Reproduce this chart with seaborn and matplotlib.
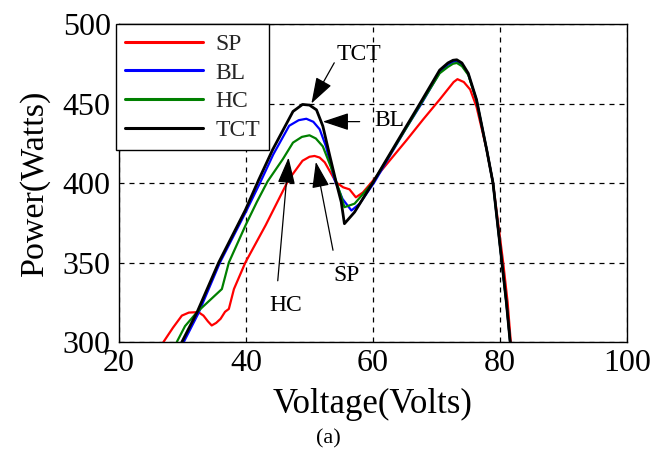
import matplotlib
matplotlib.use("Agg")
import matplotlib.pyplot as plt
import seaborn as sns
import pandas as pd

# ---- data ----
tct_v = [29.9, 32.3, 35.7, 39.9, 42.0, 44.2, 47.4, 48.9, 50.0, 51.1, 52.1, 53.2, 54.2, 55.0, 55.5, 57.1,
         60.0, 65.3, 67.4, 70.5, 71.8, 72.6, 73.2, 74.0, 75.0, 76.3, 77.9, 78.9, 80.3, 81.0, 81.6, 81.8]
tct_p = [300, 318.8, 350, 383, 402, 421, 445, 449.4, 449, 446, 435.8, 417, 400.4, 388, 374.4, 381.7,
         400.4, 436, 450, 471, 475.5, 477.2, 477.5, 475.5, 469, 452.5, 421, 400, 350, 325, 300, 290]

bl_v = [30.2, 32.5, 35.9, 40.0, 42.2, 44.3, 46.8, 48.3, 49.5, 50.6, 51.6, 52.6, 53.9, 55.2, 56.6, 57.9,
        60.2, 65.3, 67.5, 70.5, 71.8, 72.6, 73.2, 74.0, 75.0, 76.3, 77.9, 78.9, 80.3, 81.0, 81.6, 81.8]
bl_p = [300, 318, 350, 382, 400, 418, 436, 439.5, 440.4, 438.5, 433.8, 423, 402.5, 390, 382.7, 387,
        400.4, 435, 449, 469.5, 474.5, 476.2, 476.5, 474.5, 468.5, 452, 421, 400, 350, 325, 300, 290]

hc_v = [29.1, 30.4, 32.3, 36.2, 37.3, 40.0, 41.7, 43.4, 45.8, 47.4, 48.8, 50.0, 51.0, 52.1, 53.7, 54.8,
        55.5, 57.1, 60.0, 65.3, 67.4, 70.5, 71.8, 72.6, 73.2, 74.0, 75.0, 76.3, 77.9, 78.9, 80.3, 81.0,
        81.6, 81.8]
hc_p = [300, 310, 318.8, 333.3, 350, 374, 388, 401, 415, 425.4, 429, 430, 428, 423, 406.7, 394,
        384.8, 387, 400.4, 435, 449, 469, 473, 475, 475.5, 473.5, 468, 452, 421, 400, 350, 325,
        300, 290]

sp_v = [27.0, 28.5, 29.9, 31.0, 32.5, 33.3, 34.0, 34.6, 35.3, 36.0, 36.7, 37.3, 38.1, 39.9, 43.1, 46.7,
        48.9, 50.0, 50.8, 51.6, 52.4, 54.2, 55.3, 56.3, 57.3, 58.4, 60.0, 62.6, 65.3, 67.9, 70.5, 72.0,
        72.7, 73.3, 74.3, 75.3, 76.3, 77.9, 78.9, 80.5, 81.2, 81.7, 81.9]
sp_p = [300, 309, 316.6, 318.5, 318.8, 316.6, 313, 310.4, 312, 314.6, 319, 320.8, 333.3, 350, 373.5, 402,
        414, 416.5, 417, 416, 413, 400.4, 397.3, 396, 391, 394, 401.5, 414, 427, 440, 452.5, 460,
        463.5, 465.3, 463.5, 458.8, 448, 421, 400, 350, 325, 300, 290]

series_names = ["SP", "BL", "HC", "TCT"]
series_colors = ["#ff0000", "#0000ff", "#008000", "#000000"]

x_ticks = [20, 40, 60, 80, 100]
y_ticks = [300, 350, 400, 450, 500]

# annotations: label, arrow tip, arrow tail, text centre (data coords)
ann_labels = ["TCT", "BL", "HC", "SP"]
ann_tip = [(50.3, 450.0), (52.1, 438.6), (46.7, 416.0), (51.0, 413.3)]
ann_tail = [(53.9, 475.6), (57.9, 438.6), (45.0, 338.5), (53.7, 357.7)]
ann_text = [(57.8, 480.6), (62.6, 439.0), (46.3, 322.9), (55.8, 342.0)]

# ---- build table ----
frames = []
for name, v, p in zip(series_names, [sp_v, bl_v, hc_v, tct_v], [sp_p, bl_p, hc_p, tct_p]):
    frames.append(pd.DataFrame({"Voltage": v, "Power": p, "Config": name}))
df = pd.concat(frames, ignore_index=True)

sns.set_theme(style="white")
plt.rcParams["font.family"] = ["Liberation Serif", "DejaVu Serif"]

fig = plt.figure(figsize=(6.56, 4.61), dpi=100)
ax = fig.add_axes([119 / 656, 1 - 342 / 461, (627 - 119) / 656, (342 - 24) / 461])

widths = {"SP": 1.6, "BL": 1.6, "HC": 1.6, "TCT": 2.0}
for name, col in zip(series_names, series_colors):
    sub = df[df["Config"] == name]
    sns.lineplot(data=sub, x="Voltage", y="Power", color=col, lw=widths[name],
                 estimator=None, sort=False, ax=ax, label=name)

ax.set_xlim(20, 100)
ax.set_ylim(300, 500)
ax.set_xticks(x_ticks)
ax.set_yticks(y_ticks)
ax.tick_params(axis="both", labelsize=23, colors="black", direction="in", length=0)
ax.tick_params(axis="y", pad=6)
ax.tick_params(axis="x", pad=5)
ax.grid(True, color="black", linestyle=(0, (4, 4)), lw=0.9)
for s in ax.spines.values():
    s.set_color("black")
    s.set_linewidth(1.0)
    s.set_visible(True)

ax.set_xlabel("Voltage(Volts)", fontsize=25, color="black", labelpad=7)
ax.set_ylabel("Power(Watts)", fontsize=24.5, color="black", labelpad=9)

leg = ax.legend(loc="upper left", bbox_to_anchor=(-0.006, 1.0), fontsize=17, frameon=True,
                fancybox=False, edgecolor="black", framealpha=1, handlelength=3.3,
                handletextpad=0.5, labelspacing=0.3, borderpad=0.4, borderaxespad=0)
leg.get_frame().set_linewidth(1.0)
for line in leg.get_lines():
    line.set_linewidth(2.2)

for lab, tip, tail, tpos in zip(ann_labels, ann_tip, ann_tail, ann_text):
    ax.annotate("", xy=tip, xytext=tail,
                arrowprops=dict(arrowstyle="-|>,head_length=0.9,head_width=0.3",
                                color="black", lw=0.9, mutation_scale=18, shrinkA=0, shrinkB=0))
    ax.text(tpos[0], tpos[1], lab, fontsize=17, ha="center", va="center", color="black")

fig.text(0.5, 1 - 439 / 461, "(a)", fontsize=16, ha="center", va="center", color="black")

fig.savefig("out.png", dpi=100)
